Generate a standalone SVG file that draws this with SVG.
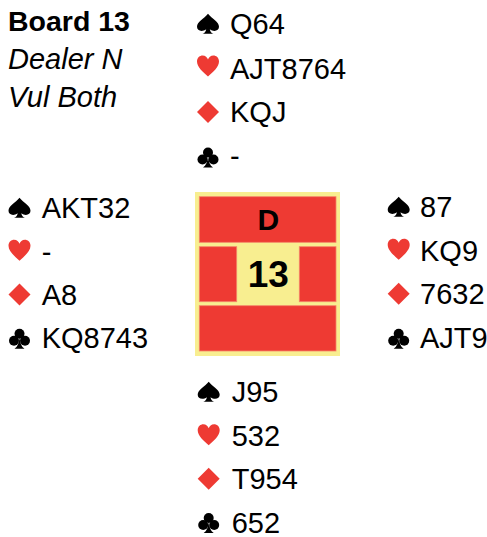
<svg xmlns="http://www.w3.org/2000/svg" width="487" height="537" viewBox="0 0 487 537">
<style>
.t{font-family:"Liberation Sans",Arial,sans-serif;font-size:29px;fill:#000}
.b{font-weight:bold}
.i{font-style:italic}
.blk{fill:#000}
.red{fill:#ee3a33}
.panel{fill:#ee3a33;stroke:#f4866a;stroke-width:0.8}
.yel{fill:#f8ee90}
</style>
<defs>
<path id="sp" d="M0,-10 C4,-5 11,-2 11,3 C11,7 6,8.5 1.8,5.5 C2.3,8 3.5,9.5 5.5,10 L-5.5,10 C-3.5,9.5 -2.3,8 -1.8,5.5 C-6,8.5 -11,7 -11,3 C-11,-2 -4,-5 0,-10 Z"/>
<path id="he" d="M0,10.5 C-5,6 -11,1 -11,-4.5 C-11,-8.5 -8,-10.5 -5.5,-10.5 C-2.5,-10.5 -0.8,-8.5 0,-6.5 C0.8,-8.5 2.5,-10.5 5.5,-10.5 C8,-10.5 11,-8.5 11,-4.5 C11,1 5,6 0,10.5 Z"/>
<path id="di" d="M0,-11 L11,0 L0,11 L-11,0 Z"/>
<g id="cl"><circle cx="0" cy="-5" r="5"/><circle cx="-5.5" cy="2" r="5"/><circle cx="5.5" cy="2" r="5"/><path d="M0,-1 C0.5,4 2,8 5,10 L-5,10 C-2,8 -0.5,4 0,-1 Z"/></g>
</defs>
<rect width="487" height="537" fill="#fff"/>
<g id="info">
<text class="t b" x="8" y="30.7" style="font-size:28.5px">Board 13</text>
<text class="t i" x="8" y="69">Dealer N</text>
<text class="t i" x="8" y="106.7">Vul Both</text>
</g>
<g id="north">
<use href="#sp" class="blk" x="208" y="23.8"/><text class="t" x="230" y="34.3">Q64</text>
<use href="#he" class="red" x="208" y="66"/><text class="t" x="230" y="78.5">AJT8764</text>
<use href="#di" class="red" x="208" y="112"/><text class="t" x="230" y="122.2">KQJ</text>
<use href="#cl" class="blk" x="208" y="157.5"/><text class="t" x="230" y="166.2">-</text>
</g>
<g id="west">
<use href="#sp" class="blk" x="19.5" y="207.8"/><text class="t" x="41.7" y="218.3">AKT32</text>
<use href="#he" class="red" x="19.5" y="250.2"/><text class="t" x="41.7" y="261.7">-</text>
<use href="#di" class="red" x="19.5" y="294.5"/><text class="t" x="41.7" y="305">A8</text>
<use href="#cl" class="blk" x="19.5" y="338.8"/><text class="t" x="41.7" y="348.3">KQ8743</text>
</g>
<g id="east">
<use href="#sp" class="blk" x="398.7" y="206.8"/><text class="t" x="420" y="217.3">87</text>
<use href="#he" class="red" x="398.7" y="249.2"/><text class="t" x="420" y="260.7">KQ9</text>
<use href="#di" class="red" x="398.7" y="293.8"/><text class="t" x="420" y="304.3">7632</text>
<use href="#cl" class="blk" x="398.7" y="338.8"/><text class="t" x="420" y="348.3">AJT9</text>
</g>
<g id="south">
<use href="#sp" class="blk" x="208.7" y="391.7"/><text class="t" x="231.7" y="402.3">J95</text>
<use href="#he" class="red" x="208.7" y="434.7"/><text class="t" x="231.7" y="446">532</text>
<use href="#di" class="red" x="208.7" y="478.7"/><text class="t" x="231.7" y="489.3">T954</text>
<use href="#cl" class="blk" x="208.7" y="523"/><text class="t" x="231.7" y="532.5">652</text>
</g>
<g id="compass">
<rect class="yel" x="195" y="192" width="145" height="164"/>
<rect class="panel" x="199.3" y="196.7" width="136.7" height="45.6"/>
<rect class="panel" x="199.3" y="246.7" width="37.4" height="55"/>
<rect class="panel" x="299.3" y="246.7" width="36.7" height="55"/>
<rect class="panel" x="199.3" y="305.7" width="136.7" height="45.3"/>
<text class="t b" x="268.3" y="230" style="font-size:30px" text-anchor="middle">D</text>
<text class="t b" x="268.3" y="286.7" style="font-size:37px" text-anchor="middle">13</text>
</g>
</svg>
